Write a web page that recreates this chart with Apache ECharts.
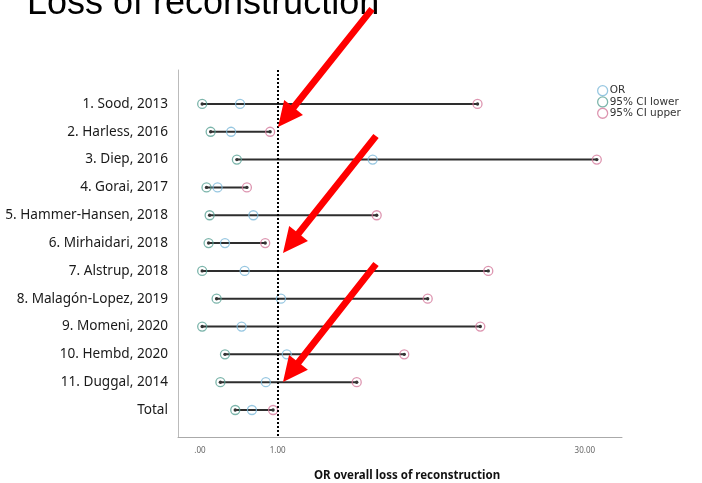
<!DOCTYPE html>
<html>
<head>
<meta charset="utf-8">
<script src="https://cdn.jsdelivr.net/npm/echarts@6/dist/echarts.min.js"></script>
<style>
  html, body { margin: 0; padding: 0; background: #fff; }
  #chart { width: 702px; height: 483px; }
</style>
</head>
<body>
<div id="chart"></div>
<script>
// Studies, top to bottom
const studies = [
  '1. Sood, 2013',
  '2. Harless, 2016',
  '3. Diep, 2016',
  '4. Gorai, 2017',
  '5. Hammer-Hansen, 2018',
  '6. Mirhaidari, 2018',
  '7. Alstrup, 2018',
  '8. Malagón-Lopez, 2019',
  '9. Momeni, 2020',
  '10. Hembd, 2020',
  '11. Duggal, 2014',
  'Total'
];

// Odds ratios and 95% confidence limits
const orValues = [0.43, 0.32, 3.67, 0.17, 0.61, 0.25, 0.49, 1.06, 0.45, 1.17, 0.80, 0.59];
const ciLower  = [0.02, 0.10, 0.39, 0.06, 0.09, 0.08, 0.02, 0.16, 0.02, 0.25, 0.20, 0.37];
const ciUpper  = [10.9, 0.87, 33.5, 0.52, 3.84, 0.79, 12.1, 6.63, 11.2, 5.19, 3.05, 0.92];

// X axis tick labels (odds ratio)
const xTicks = [0, 1, 30];
const referenceOR = 1;

// "Safe log" axis: values are shifted by one so that 0 can sit on a log scale
const shift = v => v + 1;

const colors = {
  or: '#7db9da',
  lower: '#5ba396',
  upper: '#d47a9c'
};

const rowIdx = studies.map((_, i) => i);

// Annotation arrows (start point, tip point) in pixels
const arrowPaths = [
  [[372, 9], [278, 127]],
  [[376, 136], [283, 253]],
  [[376, 264], [283, 382]]
];

function arrowPolygon(start, tip) {
  const dx = tip[0] - start[0], dy = tip[1] - start[1];
  const len = Math.hypot(dx, dy);
  const ux = dx / len, uy = dy / len;
  const px = -uy, py = ux;
  const shaftHalf = 3.4, headHalf = 12, headLen = 25;
  const bx = tip[0] - ux * headLen, by = tip[1] - uy * headLen;
  return [
    [start[0] + px * shaftHalf, start[1] + py * shaftHalf],
    [bx + px * shaftHalf, by + py * shaftHalf],
    [bx + px * headHalf, by + py * headHalf],
    tip,
    [bx - px * headHalf, by - py * headHalf],
    [bx - px * shaftHalf, by - py * shaftHalf],
    [start[0] - px * shaftHalf, start[1] - py * shaftHalf]
  ];
}

const chart = echarts.init(document.getElementById('chart'));

const hollow = c => ({ color: 'rgba(255,255,255,0)', borderColor: c, borderWidth: 1.3 });

const option = {
  animation: false,
  backgroundColor: '#fff',
  title: {
    text: 'Loss of reconstruction',
    left: 22,
    top: -19,
    textStyle: { fontFamily: 'Liberation Sans', fontSize: 36, fontWeight: 'normal', color: '#000' }
  },
  legend: {
    orient: 'vertical',
    left: 597,
    top: 85,
    padding: 0,
    itemGap: 0,
    itemWidth: 10,
    itemHeight: 10,
    textStyle: { fontFamily: 'DejaVu Sans', fontSize: 10.5, color: '#333', padding: [0, 0, 0, -3] },
    data: [
      { name: 'OR', icon: 'circle', itemStyle: hollow(colors.or) },
      { name: '95% CI lower', icon: 'circle', itemStyle: hollow(colors.lower) },
      { name: '95% CI upper', icon: 'circle', itemStyle: hollow(colors.upper) }
    ]
  },
  grid: { left: 178, right: 80, top: 70, bottom: 46, outerBoundsMode: 'none' },
  xAxis: {
    type: 'log',
    logBase: 10,
    min: 0.822,
    max: 43.2,
    name: 'OR overall loss of reconstruction',
    nameLocation: 'middle',
    nameGap: 33,
    nameTextStyle: { fontFamily: 'Noto Sans', fontSize: 11.5, fontWeight: 'bold', color: '#111', padding: [0, 0, 0, 14] },
    axisLine: { show: true, onZero: false, lineStyle: { color: '#aaa', width: 1 } },
    axisTick: { show: false },
    splitLine: { show: false },
    axisLabel: {
      customValues: xTicks.map(shift),
      margin: 10,
      fontFamily: 'Noto Sans',
      fontSize: 8,
      color: '#666',
      formatter: value => {
        const v = Math.round((value - 1) * 100) / 100;
        return v === 0 ? '.00' : v.toFixed(2);
      }
    }
  },
  yAxis: {
    type: 'value',
    inverse: true,
    min: -1.22,
    max: 11.97,
    axisLine: { show: true, onZero: false, lineStyle: { color: '#bbb', width: 1 } },
    axisTick: { show: false },
    splitLine: { show: false },
    axisLabel: {
      customValues: rowIdx,
      margin: 10,
      fontFamily: 'Noto Sans',
      fontSize: 13.6,
      color: '#1a1a1a',
      formatter: value => studies[Math.round(value)]
    }
  },
  series: [
    {
      name: 'range',
      type: 'custom',
      silent: true,
      encode: { x: [0, 1], y: 2 },
      data: rowIdx.map(i => [shift(ciLower[i]), shift(ciUpper[i]), i]),
      renderItem: (params, api) => {
        const lo = api.coord([api.value(0), api.value(2)]);
        const hi = api.coord([api.value(1), api.value(2)]);
        return {
          type: 'group',
          children: [
            { type: 'line', shape: { x1: lo[0], y1: lo[1], x2: hi[0], y2: hi[1] }, style: { stroke: '#2e2e2e', lineWidth: 2 } },
            { type: 'circle', shape: { cx: lo[0], cy: lo[1], r: 1.7 }, style: { fill: '#333' } },
            { type: 'circle', shape: { cx: hi[0], cy: hi[1], r: 1.7 }, style: { fill: '#333' } }
          ]
        };
      },
      markLine: {
        silent: true,
        symbol: 'none',
        label: { show: false },
        lineStyle: { color: '#000', type: 'dotted', width: 2 },
        data: [{ xAxis: shift(referenceOR) }]
      },
      z: 2
    },
    {
      name: '95% CI lower',
      type: 'scatter',
      symbol: 'circle',
      symbolSize: 9,
      itemStyle: hollow(colors.lower),
      data: rowIdx.map(i => [shift(ciLower[i]), i]),
      z: 3
    },
    {
      name: 'OR',
      type: 'scatter',
      symbol: 'circle',
      symbolSize: 9,
      itemStyle: hollow(colors.or),
      data: rowIdx.map(i => [shift(orValues[i]), i]),
      z: 3
    },
    {
      name: '95% CI upper',
      type: 'scatter',
      symbol: 'circle',
      symbolSize: 9,
      itemStyle: hollow(colors.upper),
      data: rowIdx.map(i => [shift(ciUpper[i]), i]),
      z: 3
    }
  ],
  graphic: arrowPaths.map(([s, t]) => ({
    type: 'polygon',
    z: 100,
    shape: { points: arrowPolygon(s, t) },
    style: { fill: '#ff0000' }
  }))
};

chart.setOption(option);
</script>
</body>
</html>
